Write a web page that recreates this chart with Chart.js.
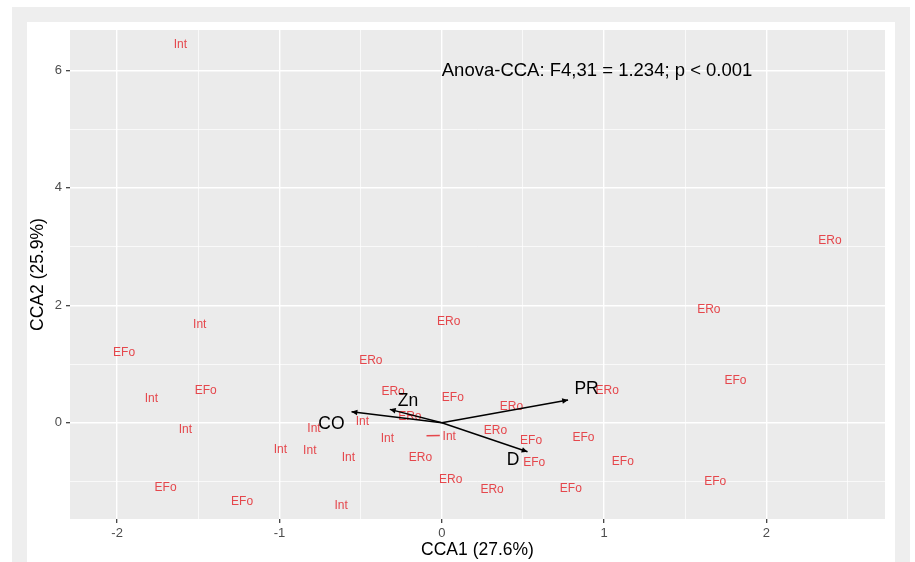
<!DOCTYPE html>
<html>
<head>
<meta charset="utf-8">
<script src="https://cdn.jsdelivr.net/npm/chart.js@4.4.1/dist/chart.umd.min.js"></script>
<style>
  html, body { margin: 0; padding: 0; background: #ffffff; }
  #wrap { width: 915px; height: 562px; }
</style>
</head>
<body>
<div id="wrap"><canvas id="cca" width="915" height="562"></canvas></div>
<script>
// Site scores on the first two canonical axes, one pair of arrays per habitat
const intX = [-1.610, -1.491, -1.789, -0.489, -1.579, -0.787, -0.335, -0.994, -0.813, -0.575, -0.620, 0.046];
const intY = [6.434, 1.676, 0.416, 0.017, -0.124, -0.107, -0.278, -0.453, -0.482, -0.596, -1.407, -0.240];

const eroX = [2.391, 1.645, 0.043, -0.437, -0.300, -0.197, 1.019, 0.429, 0.331, -0.131, 0.055, 0.310];
const eroY = [3.101, 1.920, 1.715, 1.051, 0.523, 0.102, 0.545, 0.273, -0.141, -0.596, -0.964, -1.135];

const efoX = [-1.957, -1.454, 0.068, 1.809, 0.550, 0.873, 0.569, 1.115, 1.684, -1.701, -1.230, 0.795];
const efoY = [1.193, 0.540, 0.425, 0.716, -0.312, -0.249, -0.681, -0.664, -0.999, -1.107, -1.346, -1.129];

// Leader line from one displaced site label back to its site
const leaderX = [-0.094, -0.012];
const leaderY = [-0.222, -0.218];

// Environmental vectors (biplot scores) and where their names sit
const envNames = ['CO', 'Zn', 'PR', 'D'];
const envX = [-0.556, -0.320, 0.778, 0.528];
const envY = [0.187, 0.228, 0.387, -0.494];
const envLabelX = [-0.680, -0.208, 0.892, 0.439];
const envLabelY = [-0.027, 0.375, 0.574, -0.635];

// Axis grid values: labelled (major) and unlabelled (minor) lines
const xGrid = [-2, -1.5, -1, -0.5, 0, 0.5, 1, 1.5, 2, 2.5];
const xMajor = [-2, -1, 0, 1, 2];
const yGrid = [-1, 0, 1, 2, 3, 4, 5, 6];
const yMajor = [0, 2, 4, 6];

const xTitle = 'CCA1 (27.6%)';
const yTitle = 'CCA2 (25.9%)';
const anovaText = 'Anova-CCA: F4,31 = 1.234; p < 0.001';
const anovaAt = { x: 0, y: 6 };

const FONT = '"Liberation Sans", Arial, Helvetica, sans-serif';
const SITE_RED = '#e5474c';
const PANEL = '#ebebeb';

const siteSets = [
  { label: 'Int', xs: intX, ys: intY },
  { label: 'ERo', xs: eroX, ys: eroY },
  { label: 'EFo', xs: efoX, ys: efoY }
];

const toPoints = (xs, ys) => xs.map((x, i) => ({ x: x, y: ys[i] }));

const datasets = [];
siteSets.forEach(s => {
  datasets.push({
    label: s.label,
    siteText: s.label,
    data: toPoints(s.xs, s.ys),
    pointRadius: 0,
    pointHoverRadius: 0,
    showLine: false
  });
});
datasets.push({
  label: 'leader',
  data: toPoints(leaderX, leaderY),
  showLine: true,
  borderColor: SITE_RED,
  borderWidth: 1.3,
  pointRadius: 0
});
envNames.forEach((name, i) => {
  datasets.push({
    label: name,
    envIndex: i,
    data: [{ x: 0, y: 0 }, { x: envX[i], y: envY[i] }],
    showLine: true,
    borderColor: '#000000',
    borderWidth: 1.4,
    pointRadius: 0
  });
});

const isMajor = (list, v) => list.some(m => Math.abs(m - v) < 1e-9);

const biplotPlugin = {
  id: 'biplot',
  beforeDraw(chart) {
    const { ctx, chartArea: a } = chart;
    ctx.save();
    ctx.fillStyle = '#ffffff';
    ctx.fillRect(0, 0, chart.width, chart.height);
    ctx.fillStyle = '#eeeeee';
    ctx.fillRect(12, 7, 898, chart.height - 7);
    ctx.fillStyle = '#ffffff';
    ctx.fillRect(27, 22, 868, chart.height - 22);
    ctx.fillStyle = PANEL;
    ctx.fillRect(a.left, a.top, a.right - a.left, a.bottom - a.top);
    ctx.restore();
  },
  beforeDatasetsDraw(chart) {
    // site names written at each site's score
    const { ctx } = chart;
    ctx.save();
    ctx.font = '12px ' + FONT;
    ctx.fillStyle = SITE_RED;
    ctx.textAlign = 'center';
    ctx.textBaseline = 'middle';
    chart.data.datasets.forEach((ds, di) => {
      if (!ds.siteText) return;
      chart.getDatasetMeta(di).data.forEach(pt => {
        ctx.fillText(ds.siteText, pt.x, pt.y);
      });
    });
    ctx.restore();
  },
  afterDatasetsDraw(chart) {
    const { ctx, scales: { x, y } } = chart;
    ctx.save();
    // arrow heads on the environmental vectors
    chart.data.datasets.forEach((ds, di) => {
      if (ds.envIndex === undefined) return;
      const pts = chart.getDatasetMeta(di).data;
      const p0 = pts[0], p1 = pts[1];
      const ang = Math.atan2(p1.y - p0.y, p1.x - p0.x);
      const len = 6.5, spread = Math.PI / 7;
      ctx.fillStyle = '#000000';
      ctx.beginPath();
      ctx.moveTo(p1.x, p1.y);
      ctx.lineTo(p1.x - len * Math.cos(ang - spread), p1.y - len * Math.sin(ang - spread));
      ctx.lineTo(p1.x - len * Math.cos(ang + spread), p1.y - len * Math.sin(ang + spread));
      ctx.closePath();
      ctx.fill();
    });
    // names of the environmental variables
    ctx.font = '17.5px ' + FONT;
    ctx.fillStyle = '#000000';
    ctx.textAlign = 'center';
    ctx.textBaseline = 'middle';
    envNames.forEach((name, i) => {
      ctx.fillText(name, x.getPixelForValue(envLabelX[i]), y.getPixelForValue(envLabelY[i]));
    });
    // permutation test result
    ctx.font = '18.5px ' + FONT;
    ctx.textAlign = 'left';
    ctx.fillText(anovaText, x.getPixelForValue(anovaAt.x), y.getPixelForValue(anovaAt.y));
    ctx.restore();
  }
};

const gridLine = (major) => ({
  color: '#ffffff',
  lineWidth: ctx => (ctx.tick && isMajor(major, ctx.tick.value)) ? 1.4 : 0.7,
  drawTicks: true,
  tickLength: 4,
  tickWidth: 1.2,
  tickColor: ctx => (ctx.tick && isMajor(major, ctx.tick.value)) ? '#333333' : 'rgba(0,0,0,0)'
});

new Chart(document.getElementById('cca'), {
  type: 'scatter',
  data: { datasets: datasets },
  options: {
    responsive: false,
    animation: false,
    devicePixelRatio: 1,
    events: [],
    layout: { padding: { left: 0, right: 30, top: 30, bottom: 0 } },
    plugins: { legend: { display: false }, tooltip: { enabled: false } },
    scales: {
      x: {
        type: 'linear',
        min: -2.29,
        max: 2.73,
        afterBuildTicks: s => { s.ticks = xGrid.map(v => ({ value: v })); },
        afterFit: s => { s.height = 43; },
        grid: gridLine(xMajor),
        border: { display: false },
        ticks: {
          autoSkip: false,
          maxRotation: 0,
          padding: 3,
          color: '#4d4d4d',
          font: { family: FONT, size: 13 },
          callback: v => isMajor(xMajor, v) ? String(v) : ''
        },
        title: {
          display: true,
          text: xTitle,
          color: '#000000',
          font: { family: FONT, size: 17.5 },
          padding: { top: 0, bottom: 1.5 }
        }
      },
      y: {
        type: 'linear',
        min: -1.64,
        max: 6.69,
        afterBuildTicks: s => { s.ticks = yGrid.map(v => ({ value: v })); },
        afterFit: s => { s.width = 70; },
        grid: gridLine(yMajor),
        border: { display: false },
        ticks: {
          autoSkip: false,
          padding: 4,
          color: '#4d4d4d',
          font: { family: FONT, size: 13 },
          callback: v => isMajor(yMajor, v) ? String(v) : ''
        },
        title: {
          display: true,
          text: yTitle,
          color: '#000000',
          font: { family: FONT, size: 17.5 },
          padding: { top: 27.5, bottom: 0 }
        }
      }
    }
  },
  plugins: [biplotPlugin]
});
</script>
</body>
</html>
